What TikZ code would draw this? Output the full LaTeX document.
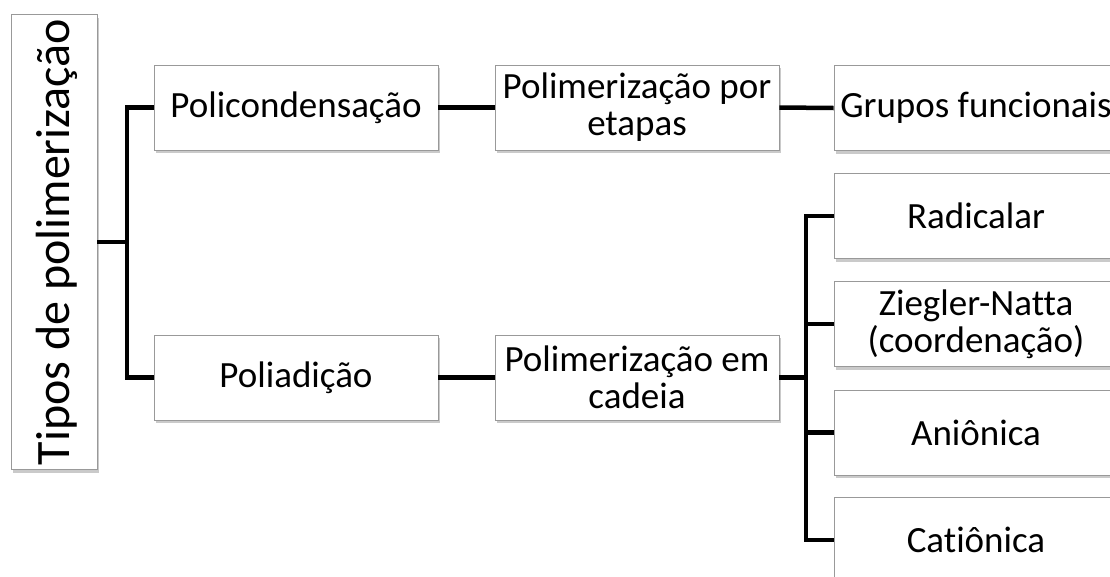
\documentclass[tikz,border=0pt]{standalone}
\usepackage{fontspec}
\setmainfont{Carlito}[Ligatures=NoCommon]
\usetikzlibrary{shadows}
\begin{document}
\begin{tikzpicture}[x=1pt,y=-1pt,
  box/.style={draw=black!40, line width=0.8pt, fill=white, align=center,
    minimum width=284pt, minimum height=85pt, inner sep=0pt,
    font=\fontsize{37}{37}\selectfont,
    drop shadow={shadow xshift=2pt, shadow yshift=-3pt, opacity=0.35, fill=black!60}},
  conn/.style={line width=4.5pt, black}]
\useasboundingbox (0,0) rectangle (1110,576);
\clip (0,0) rectangle (1110,576);
\node[box, minimum width=86pt, minimum height=455pt, font=\fontsize{48}{56}\selectfont] (root) at (54,242) {\hspace*{6pt}\rotatebox{90}{Tipos de polimerização}};
\node[box] (p1) at (296,107.5) {Policondensação};
\node[box] (p2) at (296,377.5) {Poliadição};
\node[box] (e1) at (637,107.5) {Polimerização por\\etapas};
\node[box] (e2) at (637,377.5) {Polimerização em\\cadeia};
\node[box] (g) at (976,108) {Grupos funcionais};
\node[box] (r1) at (976,216) {Radicalar};
\node[box] (r2) at (976,324) {Ziegler-Natta\\(coordenação)};
\node[box] (r3) at (976,432.5) {Aniônica};
\node[box] (r4) at (976,540) {Catiônica};
\coordinate (j1) at (127,242);
\coordinate (j2) at (806,377.5);
\draw[conn] (root.east) -- (j1) |- (p1.west);
\draw[conn] (j1) |- (p2.west);
\draw[conn] (p1.east) -- (e1.west);
\draw[conn] (e1.east) -- (g.west);
\draw[conn] (p2.east) -- (e2.west);
\draw[conn] (e2.east) -- (j2);
\draw[conn] (j2) |- (r1.west);
\draw[conn] (j2) |- (r2.west);
\draw[conn] (j2) |- (r3.west);
\draw[conn] (j2) |- (r4.west);
\end{tikzpicture}
\end{document}
